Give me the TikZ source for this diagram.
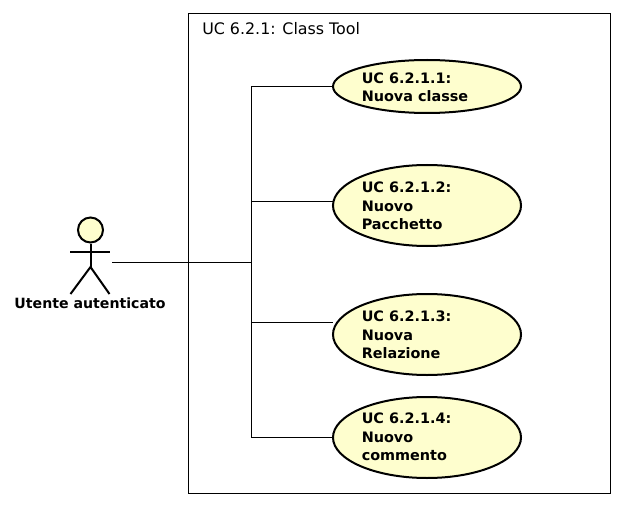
\documentclass[tikz,border=0pt]{standalone}
\usepackage{fontspec}
\setmainfont{DejaVu Sans}
\usetikzlibrary{shapes.geometric}
\definecolor{ucfill}{HTML}{FEFECE}
\tikzset{
  x=0.75pt,y=-0.75pt,
  usecase/.style={ellipse,draw=black,line width=1.5pt,fill=ucfill,inner sep=0pt,minimum width=141pt,outer sep=0pt},
  uclabel/.style={anchor=north west,inner sep=0pt,align=left,font=\bfseries\fontsize{10.8pt}{13.9pt}\selectfont,text=black},
  conn/.style={line width=0.75pt,draw=black},
  actorline/.style={line width=1.5pt,draw=black}
}
\begin{document}
\begin{tikzpicture}
\useasboundingbox (0,0) rectangle (624,506);
\node[draw=black,line width=0.75pt,minimum width=316.2pt,minimum height=360pt,inner sep=0pt,anchor=north west] (sys) at (188.2,13.3) {};
\node[anchor=base west,inner sep=0pt,font=\fontsize{11.9pt}{14pt}\selectfont] (title) at (202,35) {UC 6.2.1: Class Tool};

\node[usecase,minimum height=39.75pt] (uc1) at (427,86.5) {};
\node[usecase,minimum height=60.75pt] (uc2) at (427,205.5) {};
\node[usecase,minimum height=60.75pt] (uc3) at (427,334.5) {};
\node[usecase,minimum height=60.75pt] (uc4) at (427,437.5) {};

\node[uclabel] (t1) at (361.5,72.2) {UC 6.2.1.1:\\Nuova classe};
\node[uclabel] (t2) at (361.5,181.6) {UC 6.2.1.2:\\Nuovo\\Pacchetto};
\node[uclabel] (t3) at (361.5,310.6) {UC 6.2.1.3:\\Nuova\\Relazione};
\node[uclabel] (t4) at (361.5,412.9) {UC 6.2.1.4:\\Nuovo\\commento};

% actor
\node[circle,draw=black,line width=1.5pt,fill=ucfill,minimum size=18.75pt,inner sep=0pt] (head) at (90.5,230) {};
\coordinate (neck) at (head.south);
\coordinate (hip) at (90.5,267);
\coordinate (armL) at (70,252);
\coordinate (armR) at (110,252);
\coordinate (legL) at (70.5,294);
\coordinate (legR) at (109.5,294);
\draw[actorline] (neck) -- (hip);
\draw[actorline] (armL) -- (armR);
\draw[actorline] (legL) -- (hip) -- (legR);
\node[anchor=base,inner sep=0pt,font=\bfseries\fontsize{10.6pt}{13pt}\selectfont] (actor) at (90,308.5) {Utente autenticato};

% connectors
\coordinate (start) at (112,262);
\coordinate (j0) at (251,262);
\coordinate (j1) at (251,86.5);
\coordinate (j2) at (251,201);
\coordinate (j3) at (251,322);
\coordinate (j4) at (251,437.5);
\draw[conn] (start) -- (j0);
\draw[conn] (j1) -- (j4);
\draw[conn] (j1) -- (uc1.west);
\draw[conn] (j2) -- (j2 -| uc2.west);
\draw[conn] (j3) -- (j3 -| uc3.west);
\draw[conn] (j4) -- (uc4.west);
\end{tikzpicture}
\end{document}
